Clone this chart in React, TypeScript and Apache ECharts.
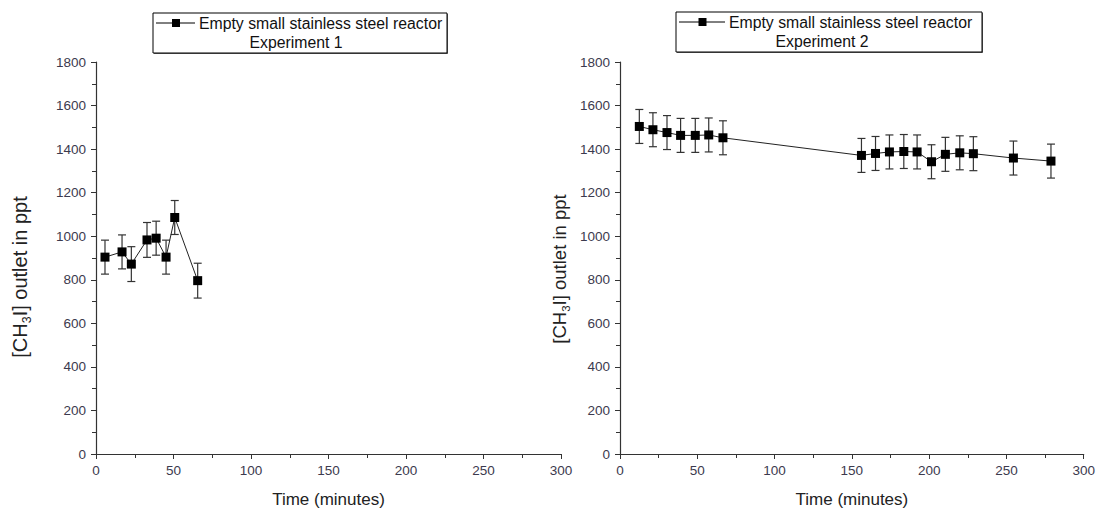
import React, { useEffect, useRef } from "react";
import * as echarts from "echarts";

const xTicks = [0, 50, 100, 150, 200, 250, 300];
const yTicks = [0, 200, 400, 600, 800, 1000, 1200, 1400, 1600, 1800];

const exp1Time = [5.8, 16.8, 22.8, 32.9, 38.8, 45.2, 50.8, 65.6];
const exp1Value = [904, 928, 872, 983, 991, 904, 1086, 796];
const exp1Error = [78, 78, 80, 80, 78, 78, 78, 80];

const exp2Time = [12.5, 21.3, 30.4, 39.2, 48.7, 57.4, 66.6, 156.2, 165.3, 174.3, 183.6, 192.2, 201.5, 210.5, 219.8, 228.6, 254.5, 278.8];
const exp2Value = [1504, 1489, 1476, 1463, 1463, 1465, 1452, 1371, 1380, 1387, 1389, 1387, 1342, 1376, 1383, 1379, 1359, 1345];
const exp2Error = [78, 78, 78, 78, 78, 78, 78, 78, 78, 78, 78, 78, 78, 78, 78, 78, 78, 78];

const legendLabel = "Empty small stainless steel reactor";
const legendSub = ["Experiment 1", "Experiment 2"];
const xName = "Time (minutes)";

const FONT = "Liberation Sans, Arial, sans-serif";
const AXIS = "#333333";
const LABEL = "#3c3a4e";

function errorRender(params: any, api: any) {
  const x = api.value(0);
  const lo = api.coord([x, api.value(1)]);
  const hi = api.coord([x, api.value(2)]);
  const w = 4;
  const style = { stroke: "#333", lineWidth: 1.2 };
  return {
    type: "group",
    children: [
      { type: "line", shape: { x1: hi[0], y1: hi[1], x2: lo[0], y2: lo[1] }, style },
      { type: "line", shape: { x1: hi[0] - w, y1: hi[1], x2: hi[0] + w, y2: hi[1] }, style },
      { type: "line", shape: { x1: lo[0] - w, y1: lo[1], x2: lo[0] + w, y2: lo[1] }, style },
    ],
  };
}

const plain = (v: number) => String(v);

function xAxisFor(gridIndex: number) {
  return {
    type: "value",
    gridIndex,
    min: xTicks[0],
    max: xTicks[xTicks.length - 1],
    interval: xTicks[1] - xTicks[0],
    name: xName,
    nameLocation: "middle",
    nameGap: 37,
    nameTextStyle: { fontFamily: FONT, fontSize: 17, color: "#222" },
    axisLine: { show: true, lineStyle: { color: AXIS, width: 1.2 } },
    axisTick: { show: true, length: 5, lineStyle: { color: AXIS } },
    minorTick: { show: true, splitNumber: 2, length: 4, lineStyle: { color: AXIS } },
    axisLabel: { fontFamily: FONT, fontSize: 13.5, color: LABEL, margin: 9, formatter: plain },
    splitLine: { show: false },
    minorSplitLine: { show: false },
  };
}

function yAxisFor(gridIndex: number) {
  return {
    type: "value",
    gridIndex,
    min: yTicks[0],
    max: yTicks[yTicks.length - 1],
    interval: yTicks[1] - yTicks[0],
    axisLine: { show: true, lineStyle: { color: AXIS, width: 1.2 } },
    axisTick: { show: true, length: 5, lineStyle: { color: AXIS } },
    minorTick: { show: true, splitNumber: 2, length: 4, lineStyle: { color: AXIS } },
    axisLabel: { fontFamily: FONT, fontSize: 13.5, color: LABEL, margin: 10, formatter: plain },
    splitLine: { show: false },
    minorSplitLine: { show: false },
  };
}

function legendBox(x: number, y: number, w: number, h: number, textX: number, subCx: number, sub: string) {
  const midY = y + 10;
  return {
    type: "group",
    children: [
      { type: "rect", shape: { x: x + 1, y: y + 1, width: w, height: h }, style: { fill: "#666" } },
      { type: "rect", shape: { x, y, width: w, height: h }, style: { fill: "#fff", stroke: "#000", lineWidth: 1 } },
      { type: "line", shape: { x1: x + 3, y1: midY, x2: textX - 4, y2: midY }, style: { stroke: "#000", lineWidth: 1 } },
      { type: "rect", shape: { x: (x + textX) / 2 - 4, y: midY - 4, width: 8, height: 8 }, style: { fill: "#000" } },
      { type: "text", x: textX, y: midY, style: { text: legendLabel, fontFamily: FONT, fontSize: 15.8, fill: "#111", align: "left", verticalAlign: "middle" } },
      { type: "text", x: subCx, y: y + 29, style: { text: sub, fontFamily: FONT, fontSize: 15.8, fill: "#111", align: "center", verticalAlign: "middle" } },
    ],
  };
}

function yName(cx: number, cy: number, size: number) {
  return {
    type: "text",
    x: cx,
    y: cy,
    rotation: Math.PI / 2,
    style: {
      text: "{a|[CH}{s|3}{a|I] outlet in ppt}",
      align: "center",
      verticalAlign: "middle",
      rich: {
        a: { fontFamily: FONT, fontSize: size, fill: "#222", lineHeight: size + 4, verticalAlign: "middle" },
        s: { fontFamily: FONT, fontSize: size * 0.62, fill: "#222", lineHeight: size + 6, verticalAlign: "bottom" },
      },
    },
  };
}

export default function App() {
  const ref = useRef<HTMLDivElement>(null);
  useEffect(() => {
    if (!ref.current) return;
    const chart = echarts.init(ref.current, null, { renderer: "svg" });
    const d1 = exp1Time.map((t, i) => [t, exp1Value[i]]);
    const d2 = exp2Time.map((t, i) => [t, exp2Value[i]]);
    const e1 = exp1Time.map((t, i) => [t, exp1Value[i] - exp1Error[i], exp1Value[i] + exp1Error[i]]);
    const e2 = exp2Time.map((t, i) => [t, exp2Value[i] - exp2Error[i], exp2Value[i] + exp2Error[i]]);
    const lineSeries = (data: number[][], idx: number) => ({
      type: "line",
      xAxisIndex: idx,
      yAxisIndex: idx,
      data,
      symbol: "rect",
      symbolSize: 9,
      itemStyle: { color: "#000" },
      lineStyle: { color: "#222", width: 1 },
      z: 3,
    });
    const errSeries = (data: number[][], idx: number) => ({
      type: "custom",
      xAxisIndex: idx,
      yAxisIndex: idx,
      data,
      encode: { x: 0, y: [1, 2] },
      renderItem: errorRender,
      z: 2,
    });
    chart.setOption({
      animation: false,
      backgroundColor: "#fff",
      grid: [
        { left: 96, top: 62, width: 465, height: 393 },
        { left: 620, top: 62, width: 464, height: 393 },
      ],
      xAxis: [xAxisFor(0), xAxisFor(1)],
      yAxis: [yAxisFor(0), yAxisFor(1)],
      series: [errSeries(e1, 0), lineSeries(d1, 0), errSeries(e2, 1), lineSeries(d2, 1)],
      graphic: [
        legendBox(153, 13, 294, 40, 199, 296, legendSub[0]),
        legendBox(676, 12, 306, 40, 729, 822, legendSub[1]),
        yName(20, 277, 20),
        yName(559, 269, 18.5),
      ],
    });
    return () => chart.dispose();
  }, []);
  return <div ref={ref} style={{ position: "fixed", left: 0, top: 0, width: 1098, height: 513 }} />;
}
